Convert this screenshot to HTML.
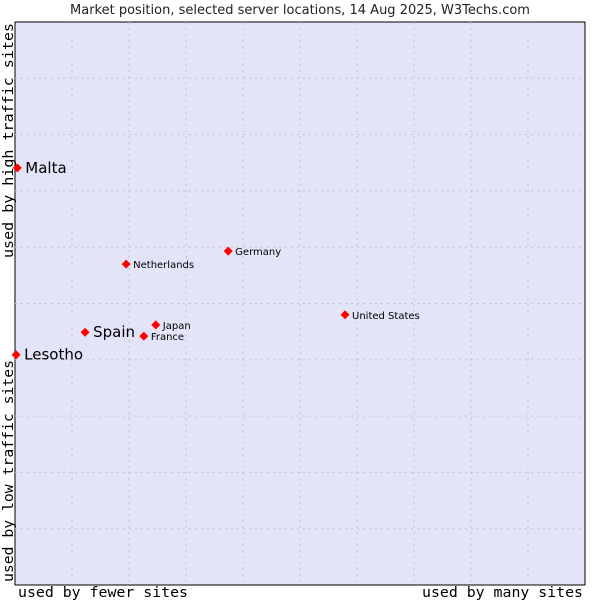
<!DOCTYPE html>
<html><head><meta charset="utf-8"><style>
body{margin:0;background:#fff;}
svg{display:block;font-family:"DejaVu Sans","Liberation Sans",sans-serif;}
</style></head><body>
<svg width="600" height="600" id="c">
<text x="300" y="14" text-anchor="middle" font-size="13" fill="#222">Market position, selected server locations, 14 Aug 2025, W3Techs.com</text>
<rect x="15" y="22" width="570" height="563" fill="#e3e4f8" stroke="#000" stroke-width="1"/>
<g id="grid"></g>
<g id="pts"></g>
<text x="18" y="597" textLength="170" lengthAdjust="spacingAndGlyphs" font-family="DejaVu Sans Mono,Liberation Mono,monospace" font-size="14" fill="#000">used by fewer sites</text>
<text x="422" y="597" textLength="161" lengthAdjust="spacingAndGlyphs" font-family="DejaVu Sans Mono,Liberation Mono,monospace" font-size="14" fill="#000">used by many sites</text>
<text transform="translate(13,582) rotate(-90)" textLength="222" lengthAdjust="spacingAndGlyphs" font-family="DejaVu Sans Mono,Liberation Mono,monospace" font-size="14" fill="#000">used by low traffic sites</text>
<text transform="translate(13,258) rotate(-90)" textLength="235" lengthAdjust="spacingAndGlyphs" font-family="DejaVu Sans Mono,Liberation Mono,monospace" font-size="14" fill="#000">used by high traffic sites</text>
</svg>
<script>
const names=["Malta","Lesotho","Spain","Netherlands","Germany","Japan","France","United States"];
const xVals=[0.04,0.02,1.23,1.95,3.74,2.47,2.26,5.79];
const yVals=[7.41,4.09,4.49,5.70,5.93,4.62,4.42,4.80];
const big=[true,true,true,false,false,false,false,false];
const X0=15,X1=585,Y0=585,Y1=22;
const sx=v=>X0+v*(X1-X0)/10, sy=v=>Y0-v*(Y0-Y1)/10;
const ns="http://www.w3.org/2000/svg";
const g=document.getElementById('grid'), p=document.getElementById('pts');
for(let i=1;i<10;i++){
 let l=document.createElementNS(ns,'line');
 l.setAttribute('x1',sx(i));l.setAttribute('x2',sx(i));l.setAttribute('y1',Y1);l.setAttribute('y2',Y0);
 l.setAttribute('stroke','#c4c4c4');l.setAttribute('stroke-dasharray','2,4');
 
 
 g.appendChild(l);
 let h=document.createElementNS(ns,'line');
 h.setAttribute('y1',sy(i));h.setAttribute('y2',sy(i));h.setAttribute('x1',X0);h.setAttribute('x2',X1);
 h.setAttribute('stroke','#c4c4c4');h.setAttribute('stroke-dasharray','2,4');
 
 
 g.appendChild(h);
}
names.forEach((n,i)=>{
 const cx=sx(xVals[i]),cy=sy(yVals[i]);
 let d=document.createElementNS(ns,'path');
 d.setAttribute('d',`M${cx-4.5},${cy}L${cx},${cy-4.5}L${cx+4.5},${cy}L${cx},${cy+4.5}Z`);
 d.setAttribute('fill','#f00');
 
 
 p.appendChild(d);
 let t=document.createElementNS(ns,'text');
 t.setAttribute('x',cx+(big[i]?8:7));t.setAttribute('y',cy+(big[i]?5:4));
 t.setAttribute('font-size',big[i]?15:10);t.setAttribute('fill','#000');
 t.textContent=n;
 
 
 p.appendChild(t);
});
</script>
</body></html>
